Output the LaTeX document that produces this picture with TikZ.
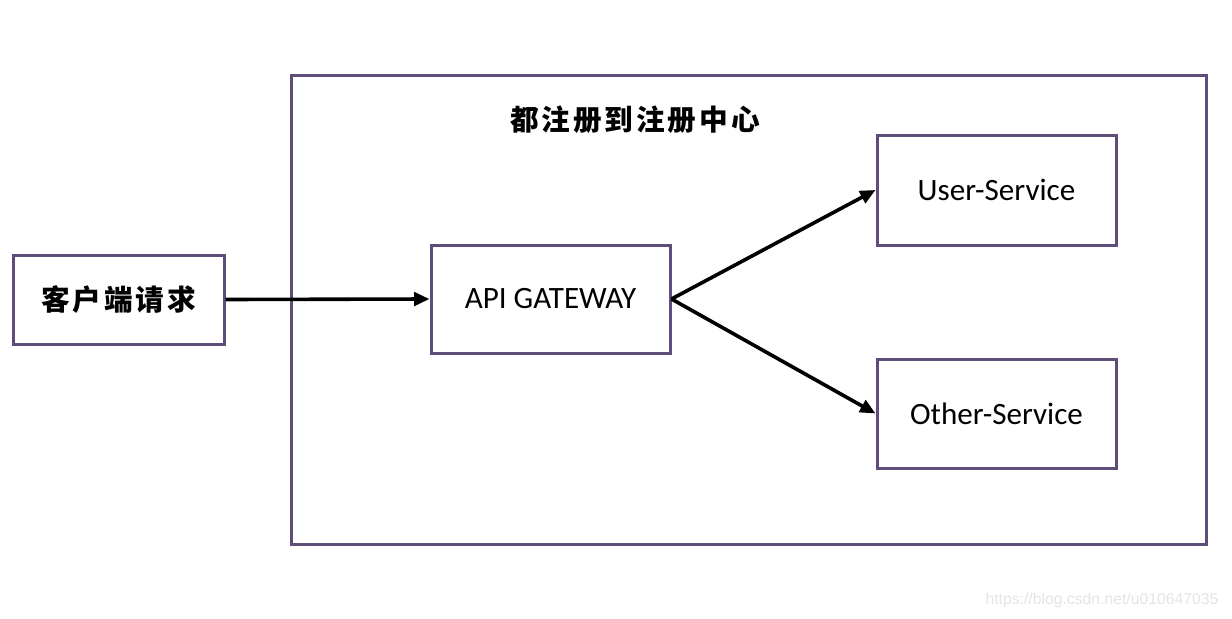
\documentclass[tikz,border=0pt]{standalone}
\usepackage{fontspec}
\setmainfont{Carlito}
\newfontfamily\cjk[LetterSpace=10]{Noto Sans CJK SC Black}
\newfontfamily\wm{Liberation Sans}
\usetikzlibrary{arrows.meta}
\definecolor{boxpurple}{RGB}{94,76,122}
\definecolor{wmgrey}{RGB}{228,228,228}
\tikzset{
  box/.style={draw=boxpurple, line width=2.25pt, rectangle, inner sep=0pt, fill=white},
  lbl/.style={font=\fontsize{23.3}{27}\selectfont},
  cjklbl/.style={font=\cjk\fontsize{21.5}{25}\selectfont},
  conn/.style={line width=2.7pt, -{Triangle[length=11.5pt,width=10pt]}}
}
\begin{document}
\begin{tikzpicture}[x=0.75pt,y=-0.75pt]
\useasboundingbox (0,0) rectangle (1232,618);
\node[box, minimum width=915*0.75pt, minimum height=469*0.75pt] (big) at (748.5,309.5) {};
\node[cjklbl] (title) at (635,120) {都注册到注册中心};
\node[box, cjklbl, minimum width=211*0.75pt, minimum height=89*0.75pt] (client) at (118.5,299.5) {客户端请求};
\node[box, lbl, minimum width=239*0.75pt, minimum height=108*0.75pt] (gw) at (550.5,299) {API GATEWAY};
\node[box, lbl, minimum width=239*0.75pt, minimum height=110*0.75pt] (user) at (996.5,190) {User-Service};
\node[box, lbl, minimum width=239*0.75pt, minimum height=109*0.75pt] (other) at (996.5,413.5) {Other-Service};
\draw[conn] (client.east) -- (gw.west);
\draw[conn] (gw.east) -- (user.west);
\draw[conn] (gw.east) -- (other.west);
\node[text=wmgrey, font=\wm\fontsize{11.8}{14}\selectfont, anchor=east] (wmark) at (1223,600) {https://blog.csdn.net/u010647035};
\end{tikzpicture}
\end{document}
